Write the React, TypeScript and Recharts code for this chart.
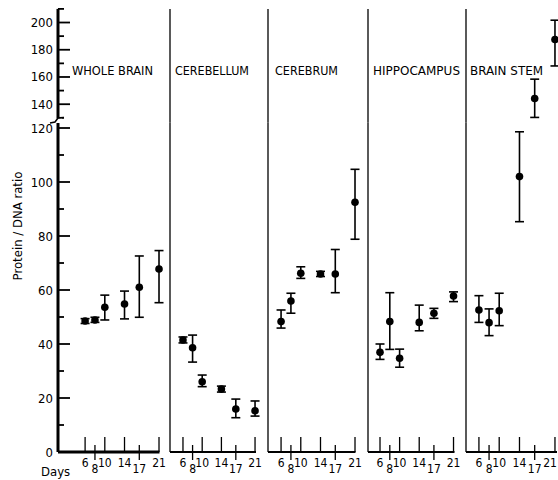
// Protein/DNA ratio by brain region, broken y axis (0-120 / 130-210), five panels side by side.
import React from 'react'
import { ScatterChart, Scatter, XAxis, YAxis, ErrorBar } from 'recharts'

const days = [6, 8, 10, 14, 17, 21]
const regions = ['WHOLE BRAIN', 'CEREBELLUM', 'CEREBRUM', 'HIPPOCAMPUS', 'BRAIN STEM']

const wholeBrain = [48.5, 48.9, 53.6, 54.8, 61, 67.8]
const wholeBrainLo = [47.6, 48, 48.9, 49.3, 49.9, 55.3]
const wholeBrainHi = [49.4, 49.9, 58.1, 59.6, 72.6, 74.6]

const cerebellum = [41.5, 38.6, 26, 23.3, 15.9, 15.3]
const cerebellumLo = [40.4, 33.3, 24.2, 22.2, 12.7, 13.3]
const cerebellumHi = [42.6, 43.3, 28.5, 24.4, 19.6, 18.9]

const cerebrum = [48.3, 55.9, 66.2, 65.9, 65.9, 92.5]
const cerebrumLo = [45.9, 51.4, 64.3, 65, 59, 78.8]
const cerebrumHi = [52.6, 58.8, 68.6, 66.9, 75, 104.7]

const hippocampus = [36.9, 48.3, 34.7, 48, 51.4, 57.8]
const hippocampusLo = [34.3, 38, 31.4, 44.9, 49.5, 55.7]
const hippocampusHi = [40, 59, 38.1, 54.4, 53.2, 59.3]

const brainStem = [52.6, 47.9, 52.3, 102, 144.2, 187.5]
const brainStemLo = [48, 43.1, 46.8, 85.3, 130.3, 168.1]
const brainStemHi = [57.9, 53, 58.8, 118.6, 158.4, 201.7]

const lowerTicks = [0, 10, 20, 30, 40, 50, 60, 70, 80, 90, 100, 110, 120]
const upperTicks = [130, 140, 150, 160, 170, 180, 190, 200, 210]

const series = [
  { mean: wholeBrain, lo: wholeBrainLo, hi: wholeBrainHi },
  { mean: cerebellum, lo: cerebellumLo, hi: cerebellumHi },
  { mean: cerebrum, lo: cerebrumLo, hi: cerebrumHi },
  { mean: hippocampus, lo: hippocampusLo, hi: hippocampusHi },
  { mean: brainStem, lo: brainStemLo, hi: brainStemHi },
]

// layout (pixels of the page)
const W = 558
const H = 480
const BREAK = 122
const LOWER_TOP = 122.6
const UPPER_TOP = 8.9
const AXIS_Y = 452
const panels = [
  { left: 58, right: 159.5, xMin: 0.5, xMax: 21.1, titleX: 72, titleW: 81 },
  { left: 170, right: 256, xMin: 3.3, xMax: 21.2, titleX: 175, titleW: 74 },
  { left: 268, right: 355.5, xMin: 3.35, xMax: 21.1, titleX: 275, titleW: 63 },
  { left: 368, right: 454.5, xMin: 3.55, xMax: 21.2, titleX: 373, titleW: 87 },
  { left: 466, right: 557, xMin: 3.45, xMax: 21.4, titleX: 470, titleW: 73 },
]

const font = "'Liberation Sans Narrow', 'DejaVu Sans Condensed', 'Liberation Sans', sans-serif"

const XTick = (props: any) => {
  const { x, y, payload } = props
  const low = payload.value === 8 || payload.value === 17
  // keep the last label of the last panel inside the page
  const tx = Math.min(x, W - 8)
  return (
    <g>
      <line x1={x} x2={x} y1={low ? y - 7 : y - 15} y2={low ? y + 8 : y} stroke="#000" strokeWidth={1.3} />
      <text x={tx} y={low ? y + 21 : y + 15} textAnchor="middle" fontSize={12} fontFamily={font} fill="#000">
        {payload.value}
      </text>
    </g>
  )
}

const YTick = (props: any) => {
  const { x, y, payload } = props
  const v = payload.value
  const major = v % 20 === 0
  return (
    <g>
      {v !== 0 && <line x1={x} x2={x + (major ? 12 : 6)} y1={y} y2={y} stroke="#000" strokeWidth={1.8} />}
      {major && (
        <text x={x - 5} y={y + 4.5} textAnchor="end" fontSize={13} fontFamily={font} fill="#000">
          {v}
        </text>
      )}
    </g>
  )
}

const renderDot = (props: any) => <circle cx={props.cx} cy={props.cy} r={3.8} fill="#000" />

function Section({ p, upper }: { p: number; upper: boolean }) {
  const g = panels[p]
  const s = series[p]
  const rows = days
    .map((d, i) => ({ day: d, v: s.mean[i], err: [s.mean[i] - s.lo[i], s.hi[i] - s.mean[i]] }))
    .filter(r => (upper ? r.v > BREAK : r.v <= BREAK))
  const first = p === 0
  const yW = first ? 40 : 1
  const xH = upper ? 0 : 20
  const top = upper ? UPPER_TOP : LOWER_TOP
  const bottomEdge = upper ? LOWER_TOP : AXIS_Y
  return (
    <div style={{ position: 'absolute', left: 0, top: 0 }}>
      <ScatterChart
        width={W}
        height={H}
        margin={{ top, left: g.left - yW, right: W - g.right, bottom: H - bottomEdge - xH }}
      >
        <XAxis
          type="number"
          dataKey="day"
          domain={[g.xMin, g.xMax]}
          hide={upper}
          ticks={days}
          interval={0}
          tick={<XTick />}
          tickLine={false}
          tickSize={0}
          tickMargin={0}
          height={20}
          axisLine={{ stroke: '#000', strokeWidth: first ? 3 : 2 }}
        />
        <YAxis
          type="number"
          dataKey="v"
          domain={upper ? [126.5, 210] : [0, BREAK]}
          allowDataOverflow={first && upper}
          ticks={first ? (upper ? upperTicks : lowerTicks) : []}
          interval={0}
          tick={first ? <YTick /> : false}
          tickLine={false}
          tickSize={0}
          tickMargin={0}
          width={yW}
          axisLine={{ stroke: '#000', strokeWidth: first ? 3 : 1.3 }}
        />
        <Scatter data={rows} shape={renderDot} isAnimationActive={false}>
          <ErrorBar dataKey="err" direction="y" width={4.5} stroke="#000" strokeWidth={1.6} isAnimationActive={false} />
        </Scatter>
      </ScatterChart>
    </div>
  )
}

export default function App() {
  return (
    <div style={{ position: 'relative', width: W, height: H, background: '#fff' }}>
      <style>{'body{margin:0}'}</style>
      {panels.map((_, p) => (
        <React.Fragment key={p}>
          <Section p={p} upper={false} />
          <Section p={p} upper />
        </React.Fragment>
      ))}
      <svg width={W} height={H} style={{ position: 'absolute', left: 0, top: 0, pointerEvents: 'none' }}>
        {/* axis break */}
        <rect x={53} y={118.5} width={9} height={4.5} fill="#fff" />
        <path d="M50 123 L55 122 L58 118 L64 117.5" stroke="#000" strokeWidth={1.5} fill="none" />
        {regions.map((r, i) => (
          <text
            key={r}
            x={panels[i].titleX}
            y={75}
            fontSize={13}
            fontFamily={font}
            textLength={panels[i].titleW}
            lengthAdjust="spacingAndGlyphs"
            fill="#000"
          >
            {r}
          </text>
        ))}
        <text
          x={0}
          y={0}
          transform="translate(22 226) rotate(-90)"
          textAnchor="middle"
          fontSize={13}
          fontFamily={font}
          fill="#000"
        >
          Protein / DNA ratio
        </text>
        <text x={41} y={476} fontSize={13} fontFamily={font} fill="#000">Days</text>
      </svg>
    </div>
  )
}
